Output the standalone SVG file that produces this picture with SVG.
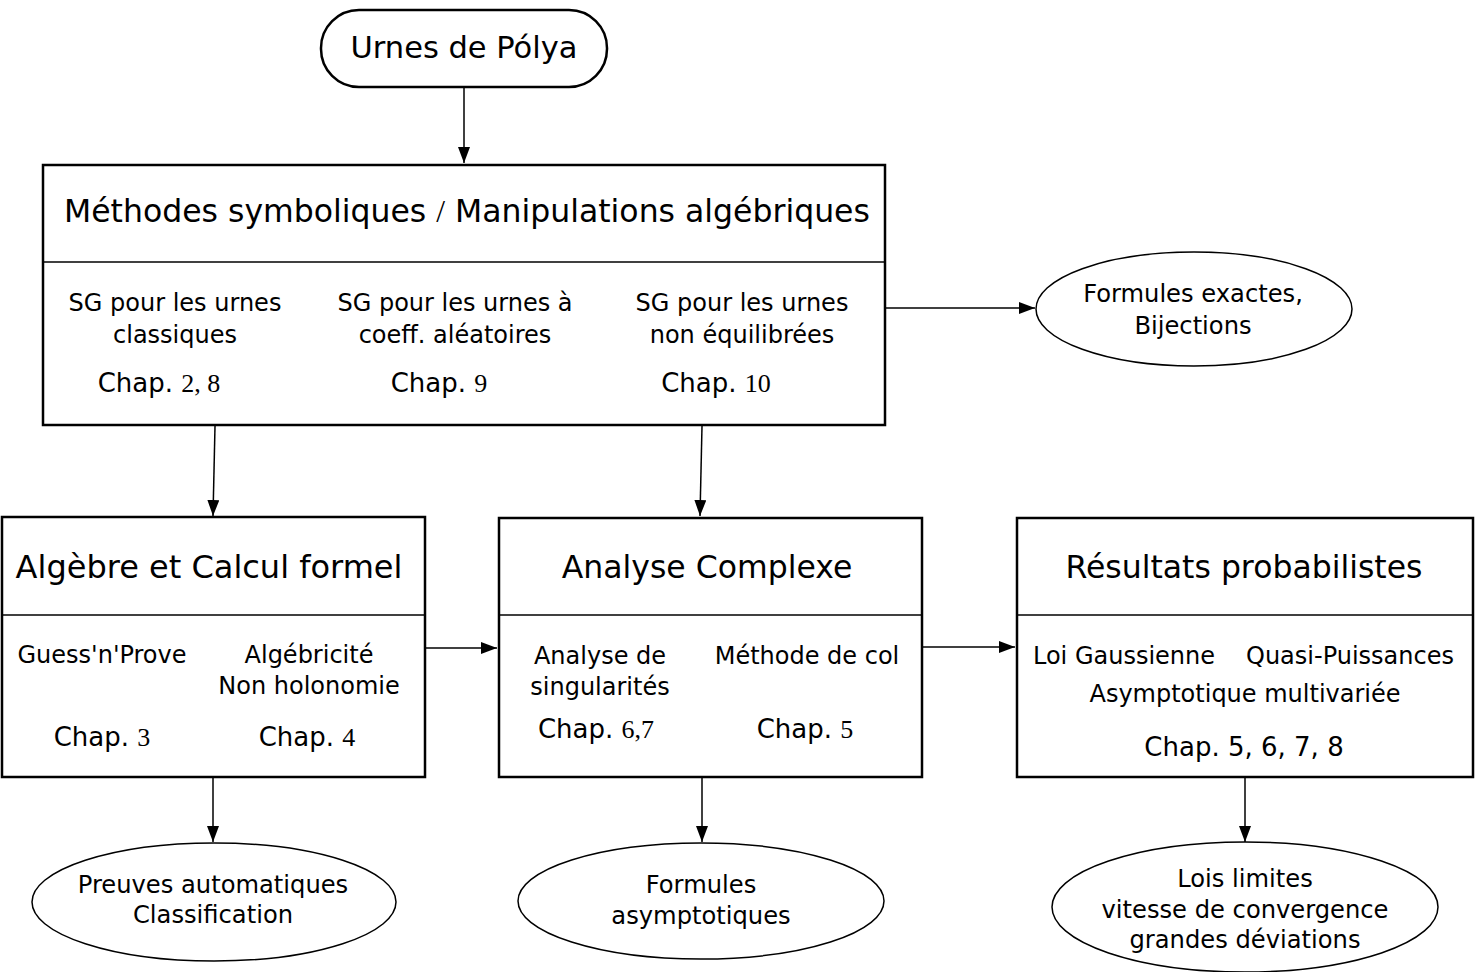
<svg xmlns="http://www.w3.org/2000/svg" width="1477" height="972" viewBox="0 0 1477 972">
<style>
text{font-family:"DejaVu Sans","Liberation Sans",sans-serif;fill:#000;text-anchor:middle}
.s{font-family:"Liberation Serif",serif}
.box{fill:#fff;stroke:#000;stroke-width:2.5}
.ell{fill:#fff;stroke:#000;stroke-width:1.5}
.t{font-size:31.5px}
.m{font-size:24px}
.c{font-size:26px}
.e{font-size:24.2px}
.ln{stroke:#000;stroke-width:1.5;fill:none}
</style>
<defs>
<marker id="ah" markerWidth="16" markerHeight="12" refX="16" refY="6" orient="auto" markerUnits="userSpaceOnUse" viewBox="0 0 16 12">
<path d="M0,0 L16,6 L0,12 Z" fill="#000"/>
</marker>
</defs>
<g id="connectors">
<line class="ln" x1="464" y1="87" x2="464" y2="163" marker-end="url(#ah)"/>
<line class="ln" x1="885" y1="308" x2="1035" y2="308" marker-end="url(#ah)"/>
<line class="ln" x1="215" y1="426" x2="213" y2="516" marker-end="url(#ah)"/>
<line class="ln" x1="702" y1="426" x2="700" y2="516" marker-end="url(#ah)"/>
<line class="ln" x1="425" y1="648" x2="497" y2="648" marker-end="url(#ah)"/>
<line class="ln" x1="922" y1="647" x2="1015" y2="647" marker-end="url(#ah)"/>
<line class="ln" x1="213" y1="777" x2="213" y2="842" marker-end="url(#ah)"/>
<line class="ln" x1="702" y1="777" x2="702" y2="842" marker-end="url(#ah)"/>
<line class="ln" x1="1245" y1="777" x2="1245" y2="842" marker-end="url(#ah)"/>
</g>
<g id="n-urnes">
<rect class="box" x="321" y="10" width="286" height="77" rx="38" ry="38" stroke-width="2"/>
<text class="t" x="464" y="58" style="font-size:30.5px">Urnes de Pólya</text>
</g>
<g id="n-methodes">
<rect class="box" x="43" y="165" width="842" height="260"/>
<line class="ln" x1="43" y1="262" x2="885" y2="262" stroke-width="2.5"/>
<text class="t" x="467" y="222">Méthodes symboliques <tspan class="s">/</tspan> Manipulations algébriques</text>
<text class="m" x="175" y="311">SG pour les urnes</text>
<text class="m" x="175" y="343">classiques</text>
<text class="c" x="159" y="392">Chap. <tspan class="s">2, 8</tspan></text>
<text class="m" x="455" y="311">SG pour les urnes à</text>
<text class="m" x="455" y="343">coeff. aléatoires</text>
<text class="c" x="439" y="392">Chap. <tspan class="s">9</tspan></text>
<text class="m" x="742" y="311">SG pour les urnes</text>
<text class="m" x="742" y="343">non équilibrées</text>
<text class="c" x="716" y="392">Chap. <tspan class="s">10</tspan></text>
</g>
<g id="n-formules-exactes">
<ellipse class="ell" cx="1194" cy="309" rx="158" ry="57"/>
<text class="e" x="1193" y="302">Formules exactes,</text>
<text class="e" x="1193" y="334">Bijections</text>
</g>
<g id="n-algebre">
<rect class="box" x="2" y="517" width="423" height="260"/>
<line class="ln" x1="2" y1="615" x2="425" y2="615" stroke-width="2.5"/>
<text class="t" x="209" y="578" style="font-size:32px">Algèbre et Calcul formel</text>
<text class="m" x="102" y="663">Guess'n'Prove</text>
<text class="m" x="309" y="663">Algébricité</text>
<text class="m" x="309" y="694">Non holonomie</text>
<text class="c" x="102" y="746">Chap. <tspan class="s">3</tspan></text>
<text class="c" x="307" y="746">Chap. <tspan class="s">4</tspan></text>
</g>
<g id="n-analyse">
<rect class="box" x="499" y="518" width="423" height="259"/>
<line class="ln" x1="499" y1="615" x2="922" y2="615" stroke-width="2.5"/>
<text class="t" x="707" y="578">Analyse Complexe</text>
<text class="m" x="600" y="664">Analyse de</text>
<text class="m" x="600" y="695">singularités</text>
<text class="m" x="807" y="664">Méthode de col</text>
<text class="c" x="596" y="738">Chap. <tspan class="s">6,7</tspan></text>
<text class="c" x="805" y="738">Chap. <tspan class="s">5</tspan></text>
</g>
<g id="n-resultats">
<rect class="box" x="1017" y="518" width="456" height="259"/>
<line class="ln" x1="1017" y1="615" x2="1473" y2="615" stroke-width="2.5"/>
<text class="t" x="1244" y="578">Résultats probabilistes</text>
<text class="m" x="1124" y="664">Loi Gaussienne</text>
<text class="m" x="1350" y="664">Quasi-Puissances</text>
<text class="m" x="1245" y="702">Asymptotique multivariée</text>
<text class="c" x="1244" y="756">Chap. 5, 6, 7, 8</text>
</g>
<g id="n-preuves">
<ellipse class="ell" cx="214" cy="902" rx="182" ry="59"/>
<text class="e" x="213" y="893">Preuves automatiques</text>
<text class="e" x="213" y="923">Classification</text>
</g>
<g id="n-formules-asym">
<ellipse class="ell" cx="701" cy="901" rx="183" ry="58"/>
<text class="e" x="701" y="893">Formules</text>
<text class="e" x="701" y="924">asymptotiques</text>
</g>
<g id="n-lois">
<ellipse class="ell" cx="1245" cy="907" rx="193" ry="65"/>
<text class="e" x="1245" y="887">Lois limites</text>
<text class="e" x="1245" y="918">vitesse de convergence</text>
<text class="e" x="1245" y="948">grandes déviations</text>
</g>
</svg>
